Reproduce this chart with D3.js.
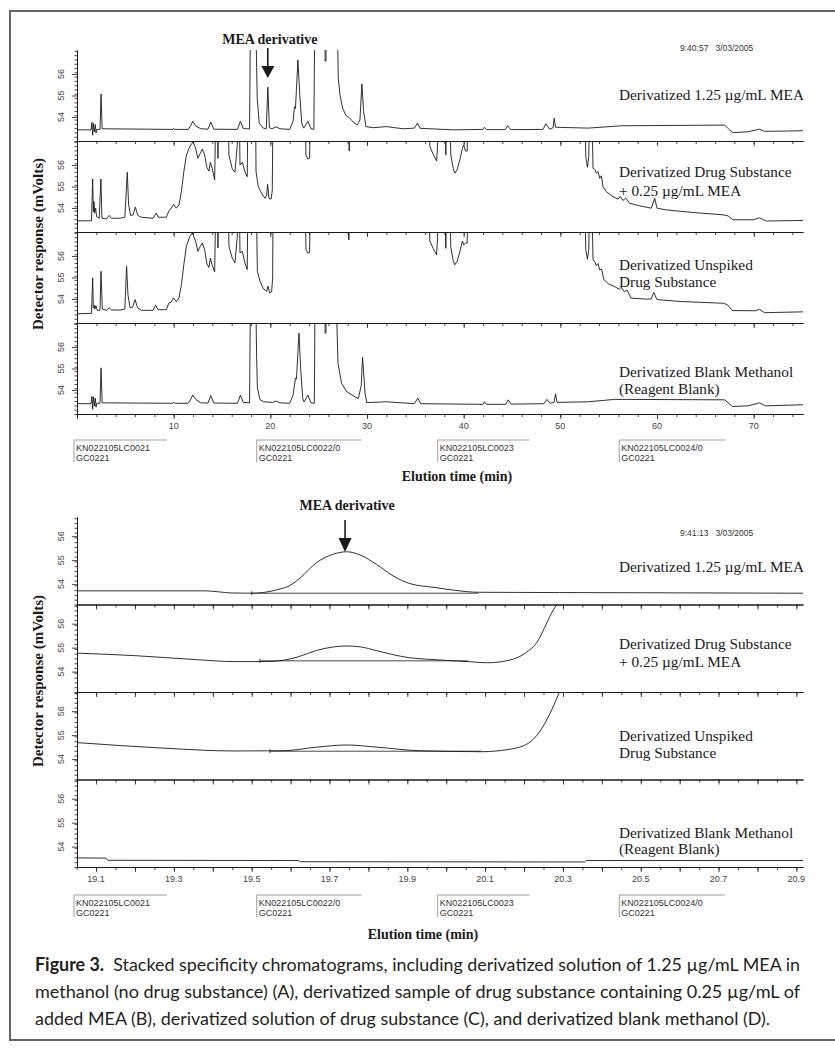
<!DOCTYPE html>
<html>
<head>
<meta charset="utf-8">
<script src="https://cdn.jsdelivr.net/npm/d3@7/dist/d3.min.js"></script>
<style>
  body { margin: 0; background: #fff; }
  svg { display: block; }
</style>
</head>
<body>
<svg id="fig" width="835" height="1048"></svg>
<script>
// ---- data: [elution time (min), detector response (mV)] ----

// full run, 0 - 75 min
var fullMEA = [[0,53.40],[1.45,53.40],[1.55,53.75],[1.62,53.15],[1.7,53.7],[1.8,53.3],[1.9,53.65],[1.97,53.25],[2.05,53.42],[2.38,53.42],[2.49,55.07],[2.6,53.45],[9.9,53.42],[10.0,53.47],[10.1,53.42],[11.5,53.42],[11.8,53.62],[11.97,53.8],[12.3,53.58],[12.8,53.45],[13.55,53.43],[13.84,53.76],[14.15,53.43],[16.6,53.42],[16.9,53.8],[17.2,53.46],[17.85,53.44],[17.97,60],[18.45,60],[18.58,56.3],[18.65,54.8],[18.85,53.72],[19.27,53.48],[19.58,53.45],[19.74,55.39],[19.9,53.5],[20.2,53.45],[20.6,53.54],[21.0,53.45],[22.0,53.42],[22.35,53.8],[22.5,54.48],[22.6,54.4],[22.85,56.65],[23.05,55.0],[23.25,53.7],[23.45,53.48],[23.9,53.8],[24.2,53.45],[24.5,53.42],[24.62,60],[25.6,60],[25.67,56.6],[25.75,56.6],[25.82,60],[26.86,60],[27.03,55.8],[27.2,55.03],[27.48,54.41],[27.82,54.07],[28.16,53.97],[28.58,53.76],[28.99,53.63],[29.27,53.86],[29.47,55.54],[29.65,54.25],[29.89,53.55],[30.65,53.5],[32.0,53.55],[33.75,53.45],[34.9,53.48],[35.2,53.71],[35.5,53.47],[38.9,53.4],[42.0,53.42],[42.15,53.52],[42.35,53.41],[44.3,53.41],[44.55,53.59],[44.85,53.41],[48.2,53.42],[48.5,53.68],[48.9,53.43],[49.25,53.5],[49.36,53.94],[49.5,53.52],[52.88,53.48],[56.33,53.59],[67.0,53.62],[67.5,53.4],[67.87,53.27],[69.4,53.31],[70.6,53.43],[71.1,53.33],[72.9,53.34],[75.1,53.36]]

var fullSpiked = [[0,53.40],[1.5,53.40],[1.62,55.35],[1.69,53.83],[1.76,54.3],[1.83,53.76],[1.93,53.99],[2.03,53.6],[2.3,53.52],[2.47,55.35],[2.58,53.52],[3.05,53.49],[3.33,53.65],[3.57,53.52],[4.43,53.52],[4.95,53.57],[5.2,55.66],[5.34,54.14],[5.55,53.65],[5.8,53.68],[6.03,54.04],[6.3,53.65],[6.65,53.57],[7.86,53.52],[8.2,53.76],[8.41,53.57],[9.24,53.57],[9.51,53.86],[9.75,53.99],[9.99,54.17],[10.27,53.99],[10.55,54.14],[10.8,54.76],[11.05,55.69],[11.32,56.47],[11.67,56.86],[12.0,57.09],[12.27,56.78],[12.51,56.31],[12.75,56.54],[12.96,56.75],[13.2,56.47],[13.44,55.88],[13.65,55.72],[13.79,56.13],[14.0,55.82],[14.24,55.31],[14.41,60],[14.52,60],[14.58,56.31],[14.69,60],[15.55,60],[15.72,56.47],[16.06,55.82],[16.34,55.66],[16.58,56.92],[16.65,60],[16.75,60],[16.86,56.0],[17.1,56.13],[17.37,55.69],[17.61,55.46],[17.7,60],[18.45,60],[18.52,55.69],[18.76,54.99],[19.1,54.68],[19.45,54.45],[19.62,54.6],[19.72,55.1],[19.86,54.45],[20.07,54.41],[20.2,54.8],[20.3,60],[23.58,60],[23.68,56.47],[23.88,56.28],[24.06,56.31],[24.16,60],[27.99,60],[28.16,56.65],[28.3,60],[36.33,60],[36.5,56.86],[36.85,56.5],[37.2,56.19],[37.3,56.93],[37.35,60],[38.05,60],[38.15,56.47],[38.29,60],[38.5,60],[38.67,56.47],[38.91,55.85],[39.08,55.62],[39.32,55.78],[39.6,56.24],[39.87,56.78],[40.0,56.93],[40.19,56.65],[40.36,56.65],[40.46,60],[52.46,60],[52.63,56.39],[52.8,55.9],[52.94,56.39],[53.05,60],[53.2,60],[53.38,55.85],[53.55,55.8],[53.72,55.62],[53.9,55.7],[54.07,55.38],[54.24,55.5],[54.41,55.0],[54.76,54.76],[55.44,54.53],[55.96,54.41],[56.2,54.53],[56.48,54.35],[56.76,54.46],[57.17,54.22],[58.2,54.1],[59.41,53.99],[59.76,54.45],[60.0,53.99],[60.97,53.91],[63.73,53.79],[66.83,53.68],[67.35,53.63],[67.87,53.45],[69.94,53.45],[70.6,53.54],[71.3,53.39],[75.1,53.42]]

var fullUnspiked = [[0,53.31],[1.5,53.33],[1.62,54.98],[1.69,53.59],[1.76,53.71],[1.85,53.53],[1.95,53.69],[2.1,53.47],[2.38,53.47],[2.48,55.29],[2.62,53.53],[3.05,53.47],[3.33,53.59],[3.57,53.49],[4.43,53.48],[4.95,53.53],[5.13,55.52],[5.27,54.2],[5.48,53.59],[5.75,53.62],[6.0,53.97],[6.27,53.59],[6.65,53.47],[7.86,53.47],[8.14,53.71],[8.38,53.5],[9.24,53.5],[9.51,53.82],[9.75,53.85],[9.99,54.05],[10.27,53.87],[10.55,54.05],[10.8,54.67],[11.05,55.6],[11.32,56.45],[11.67,56.92],[11.93,57.07],[12.27,56.69],[12.51,56.22],[12.75,56.45],[12.96,56.61],[13.2,56.3],[13.44,55.63],[13.65,55.47],[13.79,55.9],[14.0,55.57],[14.24,55.26],[14.41,60],[14.52,60],[14.58,56.38],[14.69,60],[15.55,60],[15.72,56.45],[16.06,55.9],[16.34,55.68],[16.58,56.9],[16.65,60],[16.75,60],[16.86,56.14],[17.1,56.22],[17.37,55.68],[17.61,55.37],[17.7,60],[18.5,60],[18.66,55.29],[18.93,54.83],[19.27,54.48],[19.62,54.36],[19.75,54.6],[19.93,54.28],[20.13,54.33],[20.24,54.98],[20.3,60],[23.58,60],[23.68,56.3],[23.88,56.14],[24.06,56.16],[24.16,60],[27.99,60],[28.12,56.75],[28.25,60],[36.33,60],[36.5,56.7],[36.85,56.35],[37.2,56.05],[37.3,56.9],[37.35,60],[38.05,60],[38.15,56.36],[38.29,60],[38.5,60],[38.67,56.4],[38.91,55.8],[39.08,55.59],[39.32,55.75],[39.6,56.2],[39.87,56.7],[40.0,56.52],[40.19,56.6],[40.36,56.6],[40.46,60],[52.46,60],[52.63,56.3],[52.8,55.85],[52.94,56.3],[53.05,60],[53.2,60],[53.38,55.8],[53.55,55.75],[53.72,55.55],[53.9,55.65],[54.07,55.35],[54.26,55.4],[54.5,54.9],[55.0,54.7],[55.6,54.58],[56.1,54.45],[56.3,54.55],[56.6,54.34],[56.9,54.42],[57.3,54.04],[59.0,53.99],[59.4,54.0],[59.66,54.3],[60.0,53.97],[62.5,53.88],[66.9,53.8],[67.3,53.72],[67.8,53.46],[70.2,53.45],[70.6,53.52],[71.1,53.36],[75.1,53.4]]

var fullBlank = [[0,53.36],[1.45,53.36],[1.55,53.7],[1.62,53.1],[1.7,53.68],[1.8,53.25],[1.9,53.62],[1.97,53.2],[2.05,53.38],[2.38,53.38],[2.49,55.03],[2.6,53.4],[9.9,53.38],[10.0,53.43],[10.1,53.38],[11.5,53.38],[11.8,53.6],[11.97,53.76],[12.3,53.55],[12.8,53.4],[13.55,53.39],[13.84,53.74],[14.15,53.39],[16.6,53.38],[16.9,53.76],[17.2,53.42],[17.85,53.4],[17.97,60],[18.45,60],[18.58,55.5],[18.66,54.1],[18.93,53.55],[19.3,53.45],[20.2,53.42],[20.6,53.48],[21.0,53.4],[22.0,53.38],[22.35,53.75],[22.6,54.56],[22.7,54.5],[22.96,56.65],[23.15,54.9],[23.35,53.6],[23.5,53.44],[23.9,53.76],[24.2,53.4],[24.55,53.38],[24.65,60],[25.6,60],[25.67,56.65],[25.75,56.65],[25.82,60],[26.7,60],[27.0,55.24],[27.37,54.31],[27.9,53.92],[28.57,53.73],[29.1,53.6],[29.4,54.2],[29.54,55.52],[29.8,53.83],[29.97,53.41],[32.0,53.45],[34.9,53.36],[35.25,53.62],[35.55,53.36],[42.0,53.33],[42.15,53.45],[42.35,53.33],[44.35,53.33],[44.6,53.54],[44.9,53.34],[48.3,53.36],[48.6,53.56],[48.95,53.38],[49.35,53.42],[49.5,53.82],[49.65,53.42],[52.9,53.45],[55.6,53.56],[57.0,53.56],[67.0,53.54],[67.8,53.23],[69.4,53.26],[70.6,53.4],[71.2,53.26],[75.1,53.31]]

// expanded window round the MEA derivative, 19.05 - 20.92 min
var zoomMEA = [[19.051,53.72],[19.38,53.72],[19.45,53.63],[19.5,53.62],[19.53,53.65],[19.564,53.76],[19.599,53.95],[19.624,54.25],[19.667,54.9],[19.71,55.25],[19.744,55.35],[19.778,55.22],[19.821,54.82],[19.863,54.35],[19.907,54.02],[19.971,53.86],[20.023,53.74],[20.083,53.66],[20.5,53.64],[20.917,53.62]]
var zoomSpiked = [[19.051,54.77],[19.196,54.67],[19.367,54.49],[19.452,54.42],[19.538,54.42],[19.58,54.47],[19.62,54.62],[19.666,54.88],[19.71,55.03],[19.743,55.07],[19.78,55.03],[19.82,54.88],[19.86,54.72],[19.905,54.58],[19.95,54.52],[20.055,54.42],[20.106,54.37],[20.16,54.47],[20.203,54.77],[20.237,55.32],[20.258,56.02],[20.275,56.57],[20.284,56.8],[20.3,57.3]]
var zoomUnspiked = [[19.051,54.69],[19.282,54.45],[19.453,54.34],[19.581,54.35],[19.667,54.5],[19.744,54.59],[19.821,54.5],[19.933,54.35],[20.091,54.31],[20.159,54.4],[20.211,54.66],[20.246,55.29],[20.271,56.05],[20.29,56.75],[20.305,57.3]]
var zoomBlank = [[19.051,53.53],[19.126,53.52],[19.13,53.43],[19.62,53.42],[19.625,53.37],[20.356,53.36],[20.36,53.42],[20.917,53.42]]

// integrator baselines drawn under the MEA peak (start, end, mV); null = none
var zoomBaselines = [[19.5, 20.083, 53.62], [19.521, 20.057, 54.45], [19.547, 20.091, 54.33], null]

var seriesLabels = [
  ["Derivatized 1.25 \u00b5g/mL MEA"],
  ["Derivatized Drug Substance", "+ 0.25 \u00b5g/mL MEA"],
  ["Derivatized Unspiked", "Drug Substance"],
  ["Derivatized Blank Methanol", "(Reagent Blank)"]
]
var fileIds = ["KN022105LC0021", "KN022105LC0022/0", "KN022105LC0023", "KN022105LC0024/0"]
var methodId = "GC0221"

var yTicks = [54, 55, 56]
var fullXTicks = [10, 20, 30, 40, 50, 60, 70]
var zoomXTicks = [19.1, 19.3, 19.5, 19.7, 19.9, 20.1, 20.3, 20.5, 20.7, 20.9]
var peakTime = 19.74

var captionLines = [
  "Stacked specificity chromatograms, including derivatized solution of 1.25 \u00b5g/mL MEA in",
  "methanol (no drug substance) (A), derivatized sample of drug substance containing 0.25 \u00b5g/mL of",
  "added MEA (B), derivatized solution of drug substance (C), and derivatized blank methanol (D)."
]

// ---- layout ----
var AXIS_LEFT = 77
var AXIS_RIGHT = 803
var SERIF = "'Liberation Serif', 'Times New Roman', serif"
var SANS = "'Liberation Sans', Arial, sans-serif"
var INK = "#1a1a1a"

var svg = d3.select("#fig")

svg.append("rect")
  .attr("x", 10).attr("y", 11)
  .attr("width", 840).attr("height", 1029)
  .attr("fill", "none")
  .attr("stroke", "#666")
  .attr("stroke-width", 2)

var sections = [
  {
    id: "full",
    traces: [fullMEA, fullSpiked, fullUnspiked, fullBlank],
    xDomain: [0, 75.1],
    yDomain: [52.88, 57.12],
    top: 50,
    panelH: 91,
    curve: d3.curveLinear,
    majorTicks: d3.range(0, 71, 10),
    minorTicks: d3.range(0, 76, 2),
    tickLabels: fullXTicks,
    fmt: d3.format("d"),
    labelOffsets: [[45], [31.3, 49.7], [33, 50.3], [48.7, 66]],
    stamp: "9:40:57   3/03/2005",
    stampY: 51,
    headY: 44,
    arrow: [48, 66, 78],
    yTitleY: 244,
    idTop: 440,
    xTitleX: 457,
    xTitleY: 481
  },
  {
    id: "zoom",
    traces: [zoomMEA, zoomSpiked, zoomUnspiked, zoomBlank],
    xDomain: [19.051, 20.917],
    yDomain: [53.15, 56.8],
    top: 517,
    panelH: 87.5,
    curve: d3.curveMonotoneX,
    majorTicks: d3.range(19.1, 20.95, 0.1),
    minorTicks: d3.range(19.05, 20.95, 0.05),
    tickLabels: zoomXTicks,
    fmt: d3.format(".1f"),
    labelOffsets: [[50], [39.5, 57.2], [44, 61], [53.5, 69]],
    stamp: "9:41:13   3/03/2005",
    stampY: 536,
    headY: 510,
    arrow: [520, 538, 552],
    yTitleY: 681,
    idTop: 895,
    xTitleX: 423,
    xTitleY: 939,
    baselines: zoomBaselines
  }
]

function drawSection(s) {
  var x = d3.scaleLinear().domain(s.xDomain).range([AXIS_LEFT, AXIS_RIGHT])
  var g = svg.append("g").attr("class", s.id)

  s.traces.forEach(function(trace, i) {
    var top = s.top + i * s.panelH
    var bottom = top + s.panelH
    var y = d3.scaleLinear().domain(s.yDomain).range([bottom, top])
    var clipId = s.id + "-clip-" + i

    svg.append("clipPath").attr("id", clipId)
      .append("rect")
      .attr("x", AXIS_LEFT).attr("y", top)
      .attr("width", AXIS_RIGHT - AXIS_LEFT + 1).attr("height", s.panelH)

    var line = d3.line()
      .x(function(d) { return x(d[0]) })
      .y(function(d) { return y(d[1]) })
      .curve(s.curve)

    g.append("path")
      .datum(trace)
      .attr("clip-path", "url(#" + clipId + ")")
      .attr("d", line)
      .attr("fill", "none")
      .attr("stroke", INK)
      .attr("stroke-width", 0.9)
      .attr("stroke-linejoin", "round")

    // integrator baseline under the peak
    if (s.baselines && s.baselines[i]) {
      var b = s.baselines[i]
      g.append("line")
        .attr("x1", x(b[0])).attr("x2", x(b[1]))
        .attr("y1", y(b[2])).attr("y2", y(b[2]))
        .attr("stroke", INK).attr("stroke-width", 0.8)
      g.append("line")
        .attr("x1", x(b[0])).attr("x2", x(b[0]))
        .attr("y1", y(b[2]) - 2).attr("y2", y(b[2]) + 2)
        .attr("stroke", INK).attr("stroke-width", 0.8)
    }

    // y axis: minor ruler ticks, then labelled ones
    var yMinor = d3.range(s.yDomain[0], s.yDomain[1], 0.2)
    g.append("g")
      .attr("transform", "translate(" + AXIS_LEFT + ",0)")
      .call(d3.axisLeft(y).tickValues(yMinor).tickSize(2.5).tickSizeOuter(0).tickFormat(""))
      .call(styleAxis)
    g.append("g")
      .attr("transform", "translate(" + AXIS_LEFT + ",0)")
      .call(d3.axisLeft(y).tickValues(yTicks).tickSize(5).tickSizeOuter(0).tickFormat(""))
      .call(styleAxis)

    g.selectAll(".ylab" + i)
      .data(yTicks)
      .enter().append("text")
      .attr("transform", function(d) { return "translate(61," + y(d) + ") rotate(-90)" })
      .attr("text-anchor", "middle")
      .attr("dominant-baseline", "central")
      .attr("font-family", SANS)
      .attr("font-size", 9)
      .attr("fill", "#444")
      .text(function(d) { return d })

    // x axis along the bottom of every panel
    var axisG = g.append("g").attr("transform", "translate(0," + bottom + ")")
    axisG.call(d3.axisBottom(x).tickValues(s.minorTicks).tickSize(3).tickSizeOuter(0).tickFormat(""))
      .call(styleAxis)
    axisG.append("g")
      .call(d3.axisBottom(x).tickValues(s.majorTicks).tickSize(5).tickSizeOuter(0).tickFormat(""))
      .call(styleAxis)

    // series label on the right
    var lbl = g.append("text")
      .attr("font-family", SERIF)
      .attr("font-size", 15.3)
      .attr("fill", INK)
    seriesLabels[i].forEach(function(txt, k) {
      lbl.append("tspan")
        .attr("x", 619)
        .attr("y", top + s.labelOffsets[i][k] + 5)
        .text(txt)
    })
  })

  var axisBottom = s.top + 4 * s.panelH

  g.selectAll(".xlab")
    .data(s.tickLabels)
    .enter().append("text")
    .attr("x", function(d) { return x(d) })
    .attr("y", axisBottom + 15)
    .attr("text-anchor", "middle")
    .attr("font-family", SANS)
    .attr("font-size", 9)
    .attr("fill", "#444")
    .text(function(d) { return s.fmt(d) })

  // data file stamps under the axis
  var idX = [74, 256.7, 437.7, 619.3]
  var idW = [93, 105, 92, 106]
  fileIds.forEach(function(id, k) {
    var bx = idX[k]
    g.append("path")
      .attr("d", "M" + (bx + idW[k]) + "," + s.idTop + "H" + bx + "V" + (s.idTop + 22))
      .attr("fill", "none")
      .attr("stroke", "#888")
      .attr("stroke-width", 0.8)
    g.append("text")
      .attr("x", bx + 2).attr("y", s.idTop + 11)
      .attr("font-family", SANS).attr("font-size", 9).attr("fill", "#333")
      .text(id)
    g.append("text")
      .attr("x", bx + 2).attr("y", s.idTop + 21)
      .attr("font-family", SANS).attr("font-size", 9).attr("fill", "#333")
      .text(methodId)
  })

  g.append("text")
    .attr("x", s.xTitleX).attr("y", s.xTitleY)
    .attr("text-anchor", "middle")
    .attr("font-family", SERIF).attr("font-weight", "bold").attr("font-size", 14)
    .attr("fill", INK)
    .text("Elution time (min)")

  g.append("text")
    .attr("transform", "translate(43," + s.yTitleY + ") rotate(-90)")
    .attr("text-anchor", "middle")
    .attr("font-family", SERIF).attr("font-weight", "bold").attr("font-size", 15)
    .attr("fill", INK)
    .text("Detector response (mVolts)")

  g.append("text")
    .attr("x", 680).attr("y", s.stampY)
    .attr("font-family", SANS).attr("font-size", 8.5).attr("fill", "#333")
    .attr("xml:space", "preserve")
    .text(s.stamp)

  // MEA derivative pointer
  var px = x(peakTime)
  g.append("text")
    .attr("x", px + 2).attr("y", s.headY)
    .attr("text-anchor", "middle")
    .attr("font-family", SERIF).attr("font-weight", "bold").attr("font-size", 14)
    .attr("fill", INK)
    .text("MEA derivative")
  g.append("line")
    .attr("x1", px).attr("x2", px)
    .attr("y1", s.arrow[0]).attr("y2", s.arrow[1] + 1)
    .attr("stroke", INK).attr("stroke-width", 1.6)
  g.append("path")
    .attr("d", "M" + (px - 6.5) + "," + s.arrow[1] + "L" + (px + 6.5) + "," + s.arrow[1] + "L" + px + "," + s.arrow[2] + "Z")
    .attr("fill", INK)
}

function styleAxis(sel) {
  sel.select(".domain").attr("stroke", INK).attr("stroke-width", 1)
  sel.selectAll(".tick line").attr("stroke", INK).attr("stroke-width", 0.8)
}

sections.forEach(drawSection)

// caption, condensed by squeezing the glyphs to the column width
var cap = svg.append("g").attr("font-family", "Lato, 'Open Sans', sans-serif")
  .attr("font-size", 18).attr("fill", "#231f20")
var capY = [971, 998, 1025]
var capW = [765, 765, 735]
captionLines.forEach(function(txt, k) {
  var t = cap.append("text").attr("x", 35).attr("y", capY[k])
  if (k == 0) {
    t.append("tspan").attr("font-weight", "bold").text("Figure 3.")
    t.append("tspan").text("\u00a0 " + txt)
  } else {
    t.text(txt)
  }
  t.attr("textLength", capW[k]).attr("lengthAdjust", "spacingAndGlyphs")
})
</script>
</body>
</html>
